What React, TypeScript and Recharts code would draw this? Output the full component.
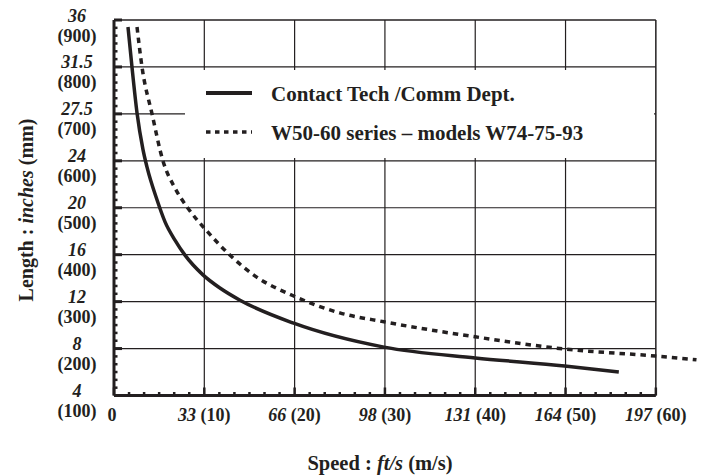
import { Legend, Line, LineChart, ReferenceLine, XAxis, YAxis } from 'recharts';

const INK = '#231f20';
const FONT = '"Liberation Serif", "Times New Roman", serif';

// axis ticks: speed in m/s with ft/s labels, length in mm with inch labels
const SPEED_MS = [0, 10, 20, 30, 40, 50, 60];
const SPEED_FTS = ['0', '33', '66', '98', '131', '164', '197'];
const LENGTH_MM = [100, 200, 300, 400, 500, 600, 700, 800, 900];
const LENGTH_IN = ['4', '8', '12', '16', '20', '24', '27.5', '31.5', '36'];

// Contact Tech / Comm Dept. (speed m/s -> length mm)
const CONTACT_SPEED = [1.55, 1.99, 2.55, 3.2, 3.65, 4.76, 5.65, 6.75, 7.86, 9.85, 11.73, 13.95, 19.9, 29.9, 40, 49.9, 55.9];
const CONTACT_LENGTH = [885, 800, 702, 625, 587, 517, 470, 431, 399, 357, 329, 303, 254, 203, 180, 163, 150];

// W50-60 series - models W74-75-93
const W50_SPEED = [2.55, 3.1, 4.21, 5.42, 6.75, 8.19, 10.4, 12.95, 15.6, 19.9, 25, 29.9, 40, 49.9, 60, 64.5];
const W50_LENGTH = [885, 800, 700, 600, 542, 499, 448, 397, 355, 312, 276, 257, 225, 199, 184, 176];

const MINOR_STEPS = 6;

const subdivide = (majors: number[]): number[] =>
  majors.slice(0, -1).flatMap((v, i) => {
    const step = (majors[i + 1] - v) / MINOR_STEPS;
    return Array.from({ length: MINOR_STEPS - 1 }, (_, k) => v + step * (k + 1));
  });

const toRows = (speed: number[], length: number[]) =>
  speed.map((s, i) => ({ speed: s, length: length[i] }));

const contactRows = toRows(CONTACT_SPEED, CONTACT_LENGTH);
const w50Rows = toRows(W50_SPEED, W50_LENGTH);

const SpeedTick = (props: any) => {
  const { x, y, payload } = props;
  const idx = SPEED_MS.indexOf(payload.value);
  if (idx < 0) {
    return <line x1={x} x2={x} y1={y} y2={y - 3.5} stroke={INK} strokeWidth={2.5} />;
  }
  return (
    <g>
      <line x1={x} x2={x} y1={y} y2={y - 8} stroke={INK} strokeWidth={2.5} />
      <text x={idx === 0 ? x - 2 : x} y={y + 25} textAnchor="middle" fill={INK} fontFamily={FONT} fontSize={18} fontWeight="bold">
        {idx === 0 ? (
          '0'
        ) : (
          <>
            <tspan fontStyle="italic">{SPEED_FTS[idx]}</tspan>
            <tspan>{` (${SPEED_MS[idx]})`}</tspan>
          </>
        )}
      </text>
    </g>
  );
};

const LengthTick = (props: any) => {
  const { x, y, payload } = props;
  const idx = LENGTH_MM.indexOf(payload.value);
  if (idx < 0) {
    return <line x1={x} x2={x + 3.5} y1={y} y2={y} stroke={INK} strokeWidth={2.5} />;
  }
  return (
    <g>
      <line x1={x} x2={x + 8} y1={y} y2={y} stroke={INK} strokeWidth={3} />
      <text x={x - 37} y={y + 1.5} textAnchor="middle" fill={INK} fontFamily={FONT} fontSize={18} fontWeight="bold" fontStyle="italic">
        {LENGTH_IN[idx]}
      </text>
      <text x={x - 37} y={y + 21.5} textAnchor="middle" fill={INK} fontFamily={FONT} fontSize={18} fontWeight="bold">
        {`(${LENGTH_MM[idx]})`}
      </text>
    </g>
  );
};

const SpeedTitle = (props: any) => {
  const vb = props.viewBox || { x: 114, y: 395.5 };
  return (
    <text x={vb.x + 266} y={vb.y + 74.5} textAnchor="middle" fill={INK} fontFamily={FONT} fontSize={20.5} fontWeight="bold">
      <tspan>Speed : </tspan>
      <tspan fontStyle="italic">ft/s</tspan>
      <tspan> (m/s)</tspan>
    </text>
  );
};

const LengthTitle = () => (
  <text
    x={33}
    y={210}
    transform="rotate(-90, 33, 210)"
    textAnchor="middle"
    fill={INK}
    fontFamily={FONT}
    fontSize={20}
    fontWeight="bold"
  >
    <tspan>Length : </tspan>
    <tspan fontStyle="italic">inches</tspan>
    <tspan> (mm)</tspan>
  </text>
);

const renderLegend = (props: any) => {
  const payload = props.payload || [];
  return (
    <svg width={469} height={88} style={{ display: 'block' }}>
      {payload.map((entry: any, i: number) => {
        const cy = i === 0 ? 23 : 62;
        const dashed = i === 1;
        return (
          <g key={entry.value}>
            <line
              x1={21}
              x2={67}
              y1={cy}
              y2={cy}
              stroke={INK}
              strokeWidth={dashed ? 3.5 : 4}
              strokeDasharray={dashed ? '4.5 4.5' : undefined}
            />
            <text x={86} y={cy + 7.5} fill={INK} fontFamily={FONT} fontSize={21} fontWeight="bold">
              {entry.value}
            </text>
          </g>
        );
      })}
    </svg>
  );
};

const H_GRID = LENGTH_MM.slice(1, -1);
const V_GRID = SPEED_MS.slice(1, -1);

export default function App() {
  return (
    <div style={{ position: 'absolute', left: 0, top: 0, width: 702, height: 475, background: '#fff' }}>
      <LineChart width={702} height={475} margin={{ top: 20, right: 1, bottom: 19.5, left: 0 }}>
        <XAxis
          dataKey="speed"
          type="number"
          domain={[0, 65]}
          ticks={[...SPEED_MS, ...subdivide(SPEED_MS)]}
          interval={0}
          height={60}
          axisLine={false}
          tickLine={false}
          tickSize={0}
          tickMargin={0}
          tick={<SpeedTick />}
          label={<SpeedTitle />}
        />
        <YAxis
          type="number"
          domain={[100, 900]}
          ticks={[...LENGTH_MM, ...subdivide(LENGTH_MM)]}
          interval={0}
          width={114}
          axisLine={{ stroke: INK, strokeWidth: 3 }}
          tickLine={false}
          tickSize={0}
          tickMargin={0}
          tick={<LengthTick />}
          label={<LengthTitle />}
        />
        {H_GRID.map((v) => (
          <ReferenceLine key={`h${v}`} segment={[{ x: 0, y: v }, { x: 60, y: v }]} stroke={INK} strokeWidth={1.2} />
        ))}
        {V_GRID.map((v) => (
          <ReferenceLine key={`v${v}`} x={v} stroke={INK} strokeWidth={1.2} />
        ))}
        <ReferenceLine segment={[{ x: 0, y: 900 }, { x: 60, y: 900 }]} stroke={INK} strokeWidth={1.5} />
        <ReferenceLine x={60} stroke={INK} strokeWidth={1.5} />
        <ReferenceLine segment={[{ x: 0, y: 100 }, { x: 60, y: 100 }]} stroke={INK} strokeWidth={3} />
        <Legend
          verticalAlign="middle"
          align="center"
          layout="horizontal"
          content={renderLegend}
          wrapperStyle={{ left: 185, top: 70, width: 469, height: 88, backgroundColor: '#fff' }}
        />
        <Line
          data={contactRows}
          dataKey="length"
          name="Contact Tech /Comm Dept."
          type="monotone"
          stroke={INK}
          strokeWidth={3.5}
          dot={false}
          activeDot={false}
          isAnimationActive={false}
        />
        <Line
          data={w50Rows}
          dataKey="length"
          name="W50-60 series – models W74-75-93"
          type="monotone"
          stroke={INK}
          strokeWidth={3.5}
          strokeDasharray="5.5 5"
          dot={false}
          activeDot={false}
          isAnimationActive={false}
        />
      </LineChart>
    </div>
  );
}
